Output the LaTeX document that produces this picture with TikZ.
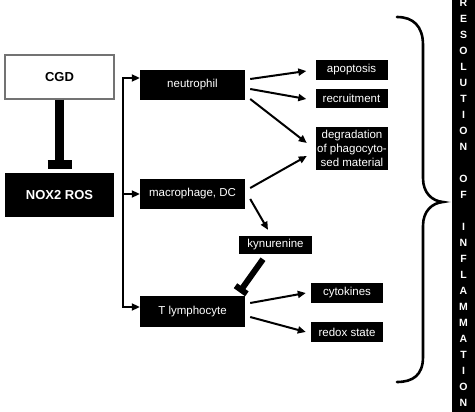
\documentclass[tikz,border=0pt]{standalone}
\usepackage{fontspec}
\setmainfont{Liberation Sans}
\usetikzlibrary{arrows.meta,calc}
\begin{document}
\begin{tikzpicture}[x=1pt,y=-1pt,
  blk/.style={fill=black, text=white, inner sep=0pt, align=center,
    font=\fontsize{11.5}{14}\selectfont},
  wbox/.style={fill=white, draw=black!55, line width=1.2pt, inner sep=0pt},
  bigtxt/.style={font=\fontsize{13}{15}\bfseries\selectfont},
  arr/.style={line width=2pt, -{Triangle[length=8pt,width=7pt]}},
  inhline/.style={line width=#1},
  barletter/.style={text=white, inner sep=0pt, text height=7.2pt, text depth=0pt,
    font=\fontsize{10.5}{12}\bfseries\selectfont}
]
\useasboundingbox (0,0) rectangle (475,412);

% left boxes
\node[wbox, bigtxt, minimum width=109pt, minimum height=44pt] (cgd) at (59.5,77) {CGD};
\node[blk, bigtxt, minimum width=109pt, minimum height=44pt] (nox) at (59.5,195) {NOX2 ROS};

% cell boxes
\node[blk, minimum width=105pt, minimum height=30pt] (neu) at (192.5,85) {neutrophil};
\node[blk, minimum width=105pt, minimum height=30pt] (mac) at (192.5,194) {macrophage, DC};
\node[blk, minimum width=105pt, minimum height=31pt] (tly) at (192.5,311.5) {T lymphocyte};

% outcome boxes
\node[blk, minimum width=72pt, minimum height=20pt] (apo) at (351.5,70) {apoptosis};
\node[blk, minimum width=72pt, minimum height=19pt] (rec) at (351.5,98.5) {recruitment};
\node[blk, minimum width=72pt, minimum height=43pt] (deg) at (352,148.5) {degradation\\of phagocyto-\\sed material};
\node[blk, minimum width=73pt, minimum height=18pt] (kyn) at (275.5,245) {kynurenine};
\node[blk, minimum width=72pt, minimum height=20pt] (cyt) at (347,293) {cytokines};
\node[blk, minimum width=72pt, minimum height=20pt] (red) at (347,332) {redox state};

% CGD inhibits NOX2 ROS
\coordinate (c2) at ($(nox.north)+(0,-8.5)$);
\draw[inhline=9pt] (cgd.south) -- (c2);
\draw[inhline=9pt] ($(c2)!12pt!90:(cgd.south)$) -- ($(c2)!12pt!-90:(cgd.south)$);

% branch
\coordinate (bt) at (123,78);
\coordinate (bm) at (bt |- mac.west);
\coordinate (bb) at (123,307);
\draw[arr, line width=2.2pt] (bm) -- (bt) -- (bt -| neu.west);
\draw[arr, line width=2.2pt] (bm) -- (bb) -- (bb -| tly.west);
\draw[arr, line width=2.2pt] (bm) -- (mac.west);

% neutrophil outcomes
\draw[arr] ($(neu.east)+(5,-6)$) -- ($(apo.west)+(-9,1)$);
\draw[arr] ($(neu.east)+(5,4)$) -- ($(rec.west)+(-9,0.5)$);
\draw[arr] ($(neu.east)+(5,14)$) -- ($(deg.west)+(-9,-5.5)$);

% macrophage outcomes
\draw[arr] ($(mac.east)+(5,-6)$) -- ($(deg.west)+(-9,7.5)$);
\draw[arr] ($(mac.east)+(5,5)$) -- ($(kyn.north)+(-7.5,-6)$);

% kynurenine inhibits T lymphocyte
\coordinate (k1) at ($(kyn.south)+(-12.5,5)$);
\coordinate (k2) at ($(tly.north east)+(-4,-6)$);
\draw[inhline=6pt] (k1) -- (k2);
\draw[inhline=6pt] ($(k2)!7pt!90:(k1)$) -- ($(k2)!7pt!-90:(k1)$);

% T lymphocyte outcomes
\draw[arr] ($(tly.east)+(5,-8.5)$) -- ($(cyt.west)+(-5,0)$);
\draw[arr] ($(tly.east)+(5,5.5)$) -- ($(red.west)+(-5,0)$);

% brace
\draw[line width=2.6pt, line cap=round]
  (397,17) .. controls (413,17) and (423,26) .. (423,45)
  -- (423,178) .. controls (423,193) and (432,201) .. (443,202)
  .. controls (432,203) and (423,211) .. (423,226)
  -- (423,357) .. controls (423,375) and (413,382) .. (397,382);

% vertical bar
\node[fill=black, minimum width=23pt, minimum height=412pt, inner sep=0pt, anchor=north west] (resbar) at (452,0) {};
\foreach \l [count=\i from 0] in {R,E,S,O,L,U,T,I,O,N,{},O,F,{},I,N,F,L,A,M,M,A,T,I,O,N}
  \node[barletter] at (463.5,3+16*\i) {\l};
\end{tikzpicture}
\end{document}
